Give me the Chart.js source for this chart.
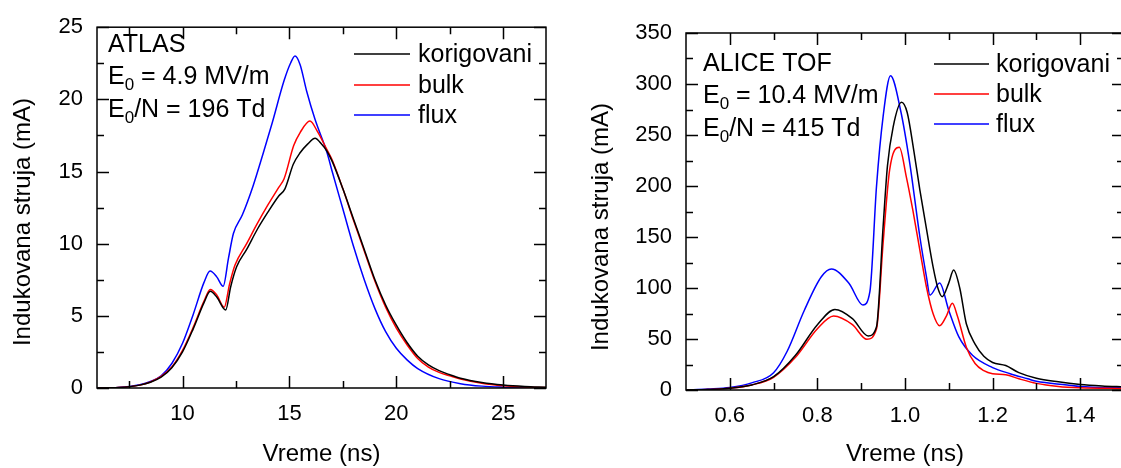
<!DOCTYPE html>
<html>
<head>
<meta charset="utf-8">
<script src="https://cdn.jsdelivr.net/npm/chart.js@4.4.0/dist/chart.umd.min.js"></script>
<style>
  body { margin: 0; width: 1121px; height: 468px; overflow: hidden; background: #fff; }
  .panel { position: absolute; top: 0; width: 560px; height: 468px; }
</style>
</head>
<body>
<div class="panel" style="left:0"><canvas id="atlas" width="560" height="468"></canvas></div>
<div class="panel" style="left:580px"><canvas id="alice" width="560" height="468"></canvas></div>

<script>
/* Induced current vs time, two detectors (ATLAS, ALICE TOF) */

const SERIES_NAMES = ['korigovani', 'bulk', 'flux'];
const SERIES_COLORS = ['#000000', '#ff0000', '#0000ff'];

// ---- ATLAS panel (time in ns, current in mA) ----
const atlasKorT = [6, 7, 8, 8.5, 9, 9.5, 10, 10.5, 11, 11.3, 11.6, 12.02, 12.25, 12.53, 13, 13.5, 14, 14.5, 14.79, 15.18, 15.5, 15.85, 16.2, 16.5, 16.76, 17, 17.5, 18, 18.5, 19, 19.5, 20, 20.5, 21, 21.5, 22, 22.5, 23, 24, 25, 26, 27];
const atlasKorI = [0, 0.03, 0.2, 0.4, 0.75, 1.4, 2.5, 4.1, 5.9, 6.7, 6.3, 5.4, 7.0, 8.4, 9.6, 11.0, 12.2, 13.3, 13.8, 15.5, 16.3, 16.9, 17.3, 16.9, 16.4, 15.7, 13.8, 11.7, 9.6, 7.5, 5.75, 4.35, 3.15, 2.2, 1.6, 1.2, 0.92, 0.68, 0.38, 0.2, 0.1, 0.05];
const atlasBulkT = [6, 7, 8, 8.5, 9, 9.5, 10, 10.5, 11, 11.3, 11.6, 11.95, 12.2, 12.45, 13, 13.5, 14, 14.5, 14.75, 15.2, 15.5, 15.96, 16.3, 16.76, 17, 17.5, 18, 18.5, 19, 19.5, 20, 20.5, 21, 21.5, 22, 22.5, 23, 24, 25, 26, 27];
const atlasBulkI = [0, 0.03, 0.2, 0.42, 0.8, 1.45, 2.6, 4.2, 6.0, 6.83, 6.45, 5.6, 7.2, 8.5, 10.0, 11.4, 12.7, 13.9, 14.5, 16.8, 17.7, 18.5, 17.8, 16.5, 15.8, 13.8, 11.6, 9.5, 7.4, 5.6, 4.15, 3.0, 2.05, 1.45, 1.08, 0.84, 0.62, 0.33, 0.16, 0.07, 0.03];
const atlasFluxT = [6, 7, 8, 8.5, 9, 9.5, 10, 10.5, 11, 11.29, 11.6, 11.9, 12.15, 12.38, 12.8, 13.3, 13.78, 14.2, 14.75, 15.05, 15.26, 15.5, 15.8, 16.2, 16.76, 17, 17.5, 18, 18.5, 19, 19.5, 20, 20.5, 21, 22, 23, 24, 25, 26, 27];
const atlasFluxI = [0, 0.03, 0.22, 0.45, 0.85, 1.7, 3.1, 5.1, 7.3, 8.1, 7.7, 7.05, 9.0, 10.7, 12.0, 14.0, 16.3, 18.4, 21.3, 22.5, 23.0, 22.4, 20.6, 18.6, 16.3, 15.0, 12.4, 9.8, 7.5, 5.5, 3.9, 2.75, 1.95, 1.35, 0.65, 0.3, 0.13, 0.06, 0.03, 0.01];
const atlasXTicks = [10, 15, 20, 25];
const atlasXMinor = [7.5, 12.5, 17.5, 22.5];
const atlasYTicks = [0, 5, 10, 15, 20, 25];
const atlasYMinor = [2.5, 7.5, 12.5, 17.5, 22.5];
const atlasNotes = ['ATLAS', 'E_0 = 4.9 MV/m', 'E_0/N = 196 Td'];

// ---- ALICE TOF panel ----
const aliceKorT = [0.5, 0.55, 0.6, 0.65, 0.7, 0.75, 0.8, 0.84, 0.88, 0.916, 0.935, 0.95, 0.96, 0.973, 0.992, 1.005, 1.02, 1.034, 1.049, 1.064, 1.075, 1.085, 1.1, 1.111, 1.125, 1.14, 1.16, 1.18, 1.2, 1.23, 1.26, 1.3, 1.35, 1.4, 1.45, 1.5];
const aliceKorI = [0, 0.5, 1.8, 5, 13, 34, 64, 79, 70, 53, 62, 160, 220, 258, 282, 272, 235, 196, 158, 121, 100, 91.5, 105, 117.6, 100, 65, 45, 33, 27, 24, 17, 11.5, 8, 5.5, 4, 3];
const aliceBulkT = [0.5, 0.55, 0.6, 0.65, 0.7, 0.75, 0.8, 0.837, 0.88, 0.913, 0.935, 0.95, 0.965, 0.987, 1.003, 1.018, 1.034, 1.049, 1.064, 1.079, 1.095, 1.108, 1.12, 1.14, 1.16, 1.18, 1.2, 1.23, 1.26, 1.3, 1.35, 1.4, 1.5];
const aliceBulkI = [0, 0.5, 1.8, 5, 12.5, 32, 60, 72.5, 64, 49.7, 60, 144, 216, 238, 209, 176, 137, 101, 75, 63, 73, 85, 72, 42, 26, 19, 16, 15, 11, 6.5, 3.5, 2.2, 1.5];
const aliceFluxT = [0.5, 0.55, 0.6, 0.65, 0.7, 0.731, 0.77, 0.809, 0.832, 0.872, 0.904, 0.92, 0.935, 0.95, 0.967, 0.99, 1.011, 1.034, 1.049, 1.057, 1.079, 1.1, 1.123, 1.154, 1.2, 1.24, 1.28, 1.3, 1.37, 1.4, 1.5];
const aliceFluxI = [0, 1, 2.5, 7, 17, 38, 78, 111, 118.6, 104.6, 83.3, 97, 200, 268, 308, 274, 222, 150, 111, 93, 105, 78, 52, 34, 22, 16, 11, 8.5, 5, 3.5, 2];
const aliceXTicks = [0.6, 0.8, 1.0, 1.2, 1.4];
const aliceXMinor = [0.7, 0.9, 1.1, 1.3, 1.5];
const aliceYTicks = [0, 50, 100, 150, 200, 250, 300, 350];
const aliceYMinor = [25, 75, 125, 175, 225, 275, 325];
const aliceNotes = ['ALICE TOF', 'E_0 = 10.4 MV/m', 'E_0/N = 415 Td'];

const FONT = '"Liberation Sans", Arial, sans-serif';
Chart.defaults.font.family = FONT;
Chart.defaults.font.size = 22;
Chart.defaults.color = '#000';

function toPoints(t, v) {
  return t.map((x, k) => ({ x, y: v[k] }));
}

/** Text with "_0" style subscripts. */
function drawSubText(ctx, text, x, y, size) {
  const parts = text.split('_');
  ctx.font = `${size}px ${FONT}`;
  ctx.fillText(parts[0], x, y);
  x += ctx.measureText(parts[0]).width;
  for (let k = 1; k < parts.length; k++) {
    const sub = parts[k][0], rest = parts[k].slice(1);
    ctx.font = `${Math.round(size * 0.66)}px ${FONT}`;
    ctx.fillText(sub, x, y + 6);
    x += ctx.measureText(sub).width;
    ctx.font = `${size}px ${FONT}`;
    ctx.fillText(rest, x, y);
    x += ctx.measureText(rest).width;
  }
}

// Frame, inward ticks on all four sides, titles, notes and legend.
const framePlugin = {
  id: 'frame',
  afterDatasetsDraw(chart, args, o) {
    const { ctx, chartArea: a, scales: { x, y } } = chart;
    ctx.save();
    ctx.strokeStyle = '#000';
    ctx.fillStyle = '#000';
    ctx.lineWidth = 1.5;
    ctx.beginPath();
    const xMarks = (vals, len) => vals.forEach(v => {
      const px = Math.round(x.getPixelForValue(v)) + 0.5;
      if (px < a.left - 1 || px > a.right + 1) return;
      ctx.moveTo(px, a.bottom); ctx.lineTo(px, a.bottom - len);
      ctx.moveTo(px, a.top); ctx.lineTo(px, a.top + len);
    });
    const yMarks = (vals, len) => vals.forEach(v => {
      const py = Math.round(y.getPixelForValue(v)) + 0.5;
      ctx.moveTo(a.left, py); ctx.lineTo(a.left + len, py);
      ctx.moveTo(a.right, py); ctx.lineTo(a.right - len, py);
    });
    xMarks(o.xTicks, 12); xMarks(o.xMinor, 7);
    yMarks(o.yTicks, 12); yMarks(o.yMinor, 7);
    ctx.stroke();
    ctx.strokeRect(a.left, a.top, a.right - a.left, a.bottom - a.top);

    // axis titles
    ctx.font = `24px ${FONT}`;
    ctx.textAlign = 'center';
    ctx.textBaseline = 'middle';
    ctx.fillText('Vreme (ns)', (a.left + a.right) / 2, o.xTitleY);
    ctx.save();
    ctx.translate(o.yTitleX, o.yTitleY);
    ctx.rotate(-Math.PI / 2);
    ctx.fillText('Indukovana struja (mA)', 0, 0);
    ctx.restore();

    // notes
    ctx.textAlign = 'left';
    ctx.textBaseline = 'alphabetic';
    o.notes.forEach((n, k) => drawSubText(ctx, n, o.noteX, o.noteY[k], 25));

    // legend
    chart.data.datasets.forEach((ds, k) => {
      ctx.strokeStyle = ds.borderColor;
      ctx.lineWidth = 1.5;
      ctx.beginPath();
      ctx.moveTo(o.legX[0], o.legY[k]);
      ctx.lineTo(o.legX[1], o.legY[k]);
      ctx.stroke();
      ctx.font = `25px ${FONT}`;
      ctx.fillText(ds.label, o.legX[2], o.legY[k] + 8);
    });
    ctx.restore();
  },
};

function makePanel(id, p) {
  const datasets = p.series.map((s, k) => ({
    label: SERIES_NAMES[k],
    data: toPoints(s[0], s[1]),
    borderColor: SERIES_COLORS[k],
    borderWidth: 1.5,
    pointRadius: 0,
    fill: false,
    cubicInterpolationMode: 'monotone',
  }));
  const tickFont = { family: FONT, size: 22 };
  return new Chart(document.getElementById(id), {
    type: 'line',
    data: { datasets },
    plugins: [framePlugin],
    options: {
      responsive: false,
      animation: false,
      devicePixelRatio: 1,
      layout: { padding: { left: 0, top: p.padTop, right: p.padRight, bottom: 0 } },
      plugins: {
        legend: { display: false },
        tooltip: { enabled: false },
        frame: {
          xTicks: p.xTicks, xMinor: p.xMinor, yTicks: p.yTicks, yMinor: p.yMinor,
          notes: p.notes, noteX: p.noteX, noteY: p.noteY,
          legX: p.legX, legY: p.legY,
          xTitleY: p.xTitleY, yTitleX: p.yTitleX, yTitleY: p.yTitleY,
        },
      },
      scales: {
        x: {
          type: 'linear', min: p.xMin, max: p.xMax,
          grid: { display: false, drawTicks: false },
          border: { display: false },
          ticks: { color: '#000', font: tickFont, padding: 13, maxRotation: 0, autoSkip: false, callback: p.xFmt },
          afterBuildTicks: s => { s.ticks = p.xTicks.map(v => ({ value: v })); },
          afterFit: s => { s.height = p.xAxisH; },
        },
        y: {
          type: 'linear', min: p.yMin, max: p.yMax,
          grid: { display: false, drawTicks: false },
          border: { display: false },
          ticks: { color: '#000', font: tickFont, padding: 14, autoSkip: false },
          afterBuildTicks: s => { s.ticks = p.yTicks.map(v => ({ value: v })); },
          afterFit: s => { s.width = p.yAxisW; },
        },
      },
    },
  });
}

makePanel('atlas', {
  series: [[atlasKorT, atlasKorI], [atlasBulkT, atlasBulkI], [atlasFluxT, atlasFluxI]],
  xMin: 6, xMax: 27, yMin: 0, yMax: 25,
  xTicks: atlasXTicks, xMinor: atlasXMinor, yTicks: atlasYTicks, yMinor: atlasYMinor,
  xFmt: v => String(v),
  padTop: 23, padRight: 14, yAxisW: 97, xAxisH: 80,
  notes: atlasNotes, noteX: 108, noteY: [52, 84, 117],
  legX: [354, 410, 418], legY: [54, 85, 115],
  xTitleY: 454, yTitleX: 23, yTitleY: 222,
});

makePanel('alice', {
  series: [[aliceKorT, aliceKorI], [aliceBulkT, aliceBulkI], [aliceFluxT, aliceFluxI]],
  xMin: 0.5, xMax: 1.5, yMin: 0, yMax: 350,
  xTicks: aliceXTicks, xMinor: aliceXMinor, yTicks: aliceYTicks, yMinor: aliceYMinor,
  xFmt: v => v.toFixed(1),
  padTop: 33, padRight: 16, yAxisW: 106, xAxisH: 78,
  notes: aliceNotes, noteX: 123, noteY: [71, 103, 136],
  legX: [354, 409, 416], legY: [64, 94, 124],
  xTitleY: 454, yTitleX: 21, yTitleY: 227,
});
</script>
</body>
</html>
